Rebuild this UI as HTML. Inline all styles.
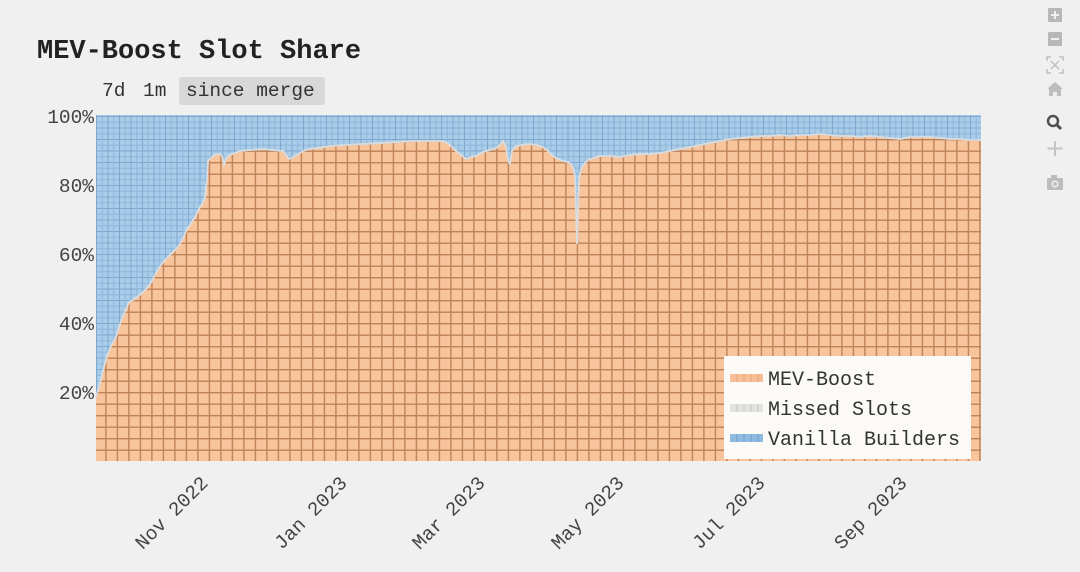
<!DOCTYPE html>
<html>
<head>
<meta charset="utf-8">
<style>
  html,body{margin:0;padding:0;background:#f0f0f0;}
  body{width:1080px;height:572px;overflow:hidden;}
  svg{display:block;}
  .mono{font-family:"Liberation Mono","DejaVu Sans Mono",monospace;}
</style>
</head>
<body>
<svg width="1080" height="572" viewBox="0 0 1080 572" xmlns="http://www.w3.org/2000/svg">
  <defs>
    <pattern id="pblue" patternUnits="userSpaceOnUse" x="96" y="116" width="11.5" height="11.5">
      <rect width="11.5" height="11.5" fill="#a9cde9"/>
      <rect x="0" y="0" width="11.5" height="1" fill="#7ea8cf"/>
      <rect x="0" y="5.75" width="11.5" height="1" fill="#8fb6da"/>
      <rect x="0" y="0" width="1" height="11.5" fill="#7ea8cf"/>
      <rect x="5.75" y="0" width="1" height="11.5" fill="#8fb6da"/>
    </pattern>
    <pattern id="porange" patternUnits="userSpaceOnUse" x="93.7" y="116" width="11.5" height="11.5">
      <rect width="11.5" height="11.5" fill="#f8c49c"/>
      <rect x="0" y="0" width="11.5" height="1.4" fill="#bf8257"/>
      <rect x="0" y="0" width="1.4" height="11.5" fill="#bf8257"/>
    </pattern>
  </defs>

  <!-- Title -->
  <text x="37" y="58" class="mono" font-size="27" font-weight="bold" fill="#222">MEV-Boost Slot Share</text>

  <!-- range buttons -->
  <rect x="179" y="77" width="146" height="28" rx="3" fill="#d8d8d8"/>
  <text x="102" y="96" class="mono" font-size="19.5" fill="#333">7d</text>
  <text x="143" y="96" class="mono" font-size="19.5" fill="#333">1m</text>
  <text x="186" y="96" class="mono" font-size="19.5" fill="#333">since merge</text>

  <!-- plot area -->
  <rect x="96" y="115" width="885" height="346" fill="url(#pblue)"/>
  <polygon fill="url(#porange)" points="96,461 96,398 99,388 103,372 107,357 111,347 116,338 121,322 126,310 129,303 133,301 137,298 142,294 147,289 152,282 156,274 161,266 166,260 171,255 176,250 180,245 184,237 187,230 190,226 195,218 199,210 202,205 205,199 207,180 208,162 212,158 216,155 220,155 222,157 224,166 226,160 229,156 235,154 240,152 250,151 263,150 272,151 283,152 286,156 289,160 293,158 297,156 303,152 309,150 318,149 329,147 345,146 363,145 380,144 396,143 412,142 429,142 440,142 446,143 451,147 456,152 461,156 466,160 471,158 476,157 483,153 490,151 496,149 500,146 503,142 506,148 508,162 510,165 512,152 516,147 522,146 529,145 537,146 543,148 548,152 553,157 558,160 563,162 568,163 572,166 574,172 575,180 576,210 577,245 578,215 579,180 581,170 584,165 588,161 593,159 600,157 610,157 620,158 630,156 640,155 650,155 660,154 670,152 680,150 690,148 700,146 710,144 720,142 730,140 740,139 750,138 760,137 770,137 780,136 790,137 800,136 810,136 820,135 830,136 840,137 850,137 860,138 870,137 880,138 890,139 900,140 910,138 920,138 930,138 940,139 950,140 960,140 970,141 981,141 981,461"/>
  <polyline fill="none" stroke="#dcdcdc" stroke-width="1.8" transform="translate(0,-1)" points="96,398 99,388 103,372 107,357 111,347 116,338 121,322 126,310 129,303 133,301 137,298 142,294 147,289 152,282 156,274 161,266 166,260 171,255 176,250 180,245 184,237 187,230 190,226 195,218 199,210 202,205 205,199 207,180 208,162 212,158 216,155 220,155 222,157 224,166 226,160 229,156 235,154 240,152 250,151 263,150 272,151 283,152 286,156 289,160 293,158 297,156 303,152 309,150 318,149 329,147 345,146 363,145 380,144 396,143 412,142 429,142 440,142 446,143 451,147 456,152 461,156 466,160 471,158 476,157 483,153 490,151 496,149 500,146 503,142 506,148 508,162 510,165 512,152 516,147 522,146 529,145 537,146 543,148 548,152 553,157 558,160 563,162 568,163 572,166 574,172 575,180 576,210 577,245 578,215 579,180 581,170 584,165 588,161 593,159 600,157 610,157 620,158 630,156 640,155 650,155 660,154 670,152 680,150 690,148 700,146 710,144 720,142 730,140 740,139 750,138 760,137 770,137 780,136 790,137 800,136 810,136 820,135 830,136 840,137 850,137 860,138 870,137 880,138 890,139 900,140 910,138 920,138 930,138 940,139 950,140 960,140 970,141 981,141"/>

  <!-- y tick labels -->
  <g class="mono" font-size="19.5" fill="#444" text-anchor="end">
    <text x="94" y="123">100%</text>
    <text x="94" y="192">80%</text>
    <text x="94" y="261">60%</text>
    <text x="94" y="330">40%</text>
    <text x="94" y="399">20%</text>
  </g>

  <!-- x tick labels -->
  <g class="mono" font-size="19.5" fill="#444" text-anchor="end">
    <text transform="translate(209,484) rotate(-45)">Nov 2022</text>
    <text transform="translate(348,484) rotate(-45)">Jan 2023</text>
    <text transform="translate(486,484) rotate(-45)">Mar 2023</text>
    <text transform="translate(625,484) rotate(-45)">May 2023</text>
    <text transform="translate(766,484) rotate(-45)">Jul 2023</text>
    <text transform="translate(908,484) rotate(-45)">Sep 2023</text>
  </g>

  <!-- legend -->
  <rect x="724" y="356" width="247" height="103" fill="#fcfaf7"/>
  <rect x="730" y="374" width="33" height="8" fill="#f6bf95"/>
  <rect x="730" y="404" width="33" height="8" fill="#e2e2e2"/>
  <rect x="730" y="434" width="33" height="8" fill="#8fbbe0"/>
  <g stroke-width="1">
    <path d="M737 374v8M744 374v8M751 374v8M758 374v8" stroke="#e0a67c"/>
    <path d="M737 404v8M744 404v8M751 404v8M758 404v8" stroke="#c8c8c8"/>
    <path d="M737 434v8M744 434v8M751 434v8M758 434v8" stroke="#6f9dc8"/>
  </g>
  <g class="mono" font-size="20" fill="#333">
    <text x="768" y="385">MEV-Boost</text>
    <text x="768" y="415">Missed Slots</text>
    <text x="768" y="445">Vanilla Builders</text>
  </g>

  <!-- modebar -->
  <g fill="#b8b8b8">
    <rect x="1048" y="8" width="14" height="14" rx="1"/>
    <rect x="1048" y="32" width="14" height="14" rx="1"/>
  </g>
  <path d="M1051 15h8M1055 11v8" stroke="#f0f0f0" stroke-width="2"/>
  <path d="M1051 39h8" stroke="#f0f0f0" stroke-width="2"/>
  <g fill="none" stroke="#c0c0c0" stroke-width="1.5">
    <path d="M1047 61v-4h4M1059 57h4v4M1063 69v4h-4M1051 73h-4v-4"/>
    <path d="M1051 61l8 8M1059 61l-8 8"/>
  </g>
  <path d="M1055 82l-8 7h2v7h4v-4h4v4h4v-7h2z" fill="#bdbdbd"/>
  <circle cx="1053" cy="121" r="5" fill="none" stroke="#505050" stroke-width="2.5"/>
  <path d="M1056.5 124.5l4.5 4.5" stroke="#505050" stroke-width="3"/>
  <path d="M1055 141v15M1047.5 148.5h15" stroke="#c4c4c4" stroke-width="2"/>
  <rect x="1047" y="178" width="16" height="12" rx="1" fill="#bdbdbd"/>
  <rect x="1051" y="175" width="6" height="4" fill="#bdbdbd"/>
  <circle cx="1055" cy="184" r="3.5" fill="#f0f0f0"/>
  <circle cx="1055" cy="184" r="2" fill="#bdbdbd"/>
</svg>
</body>
</html>
